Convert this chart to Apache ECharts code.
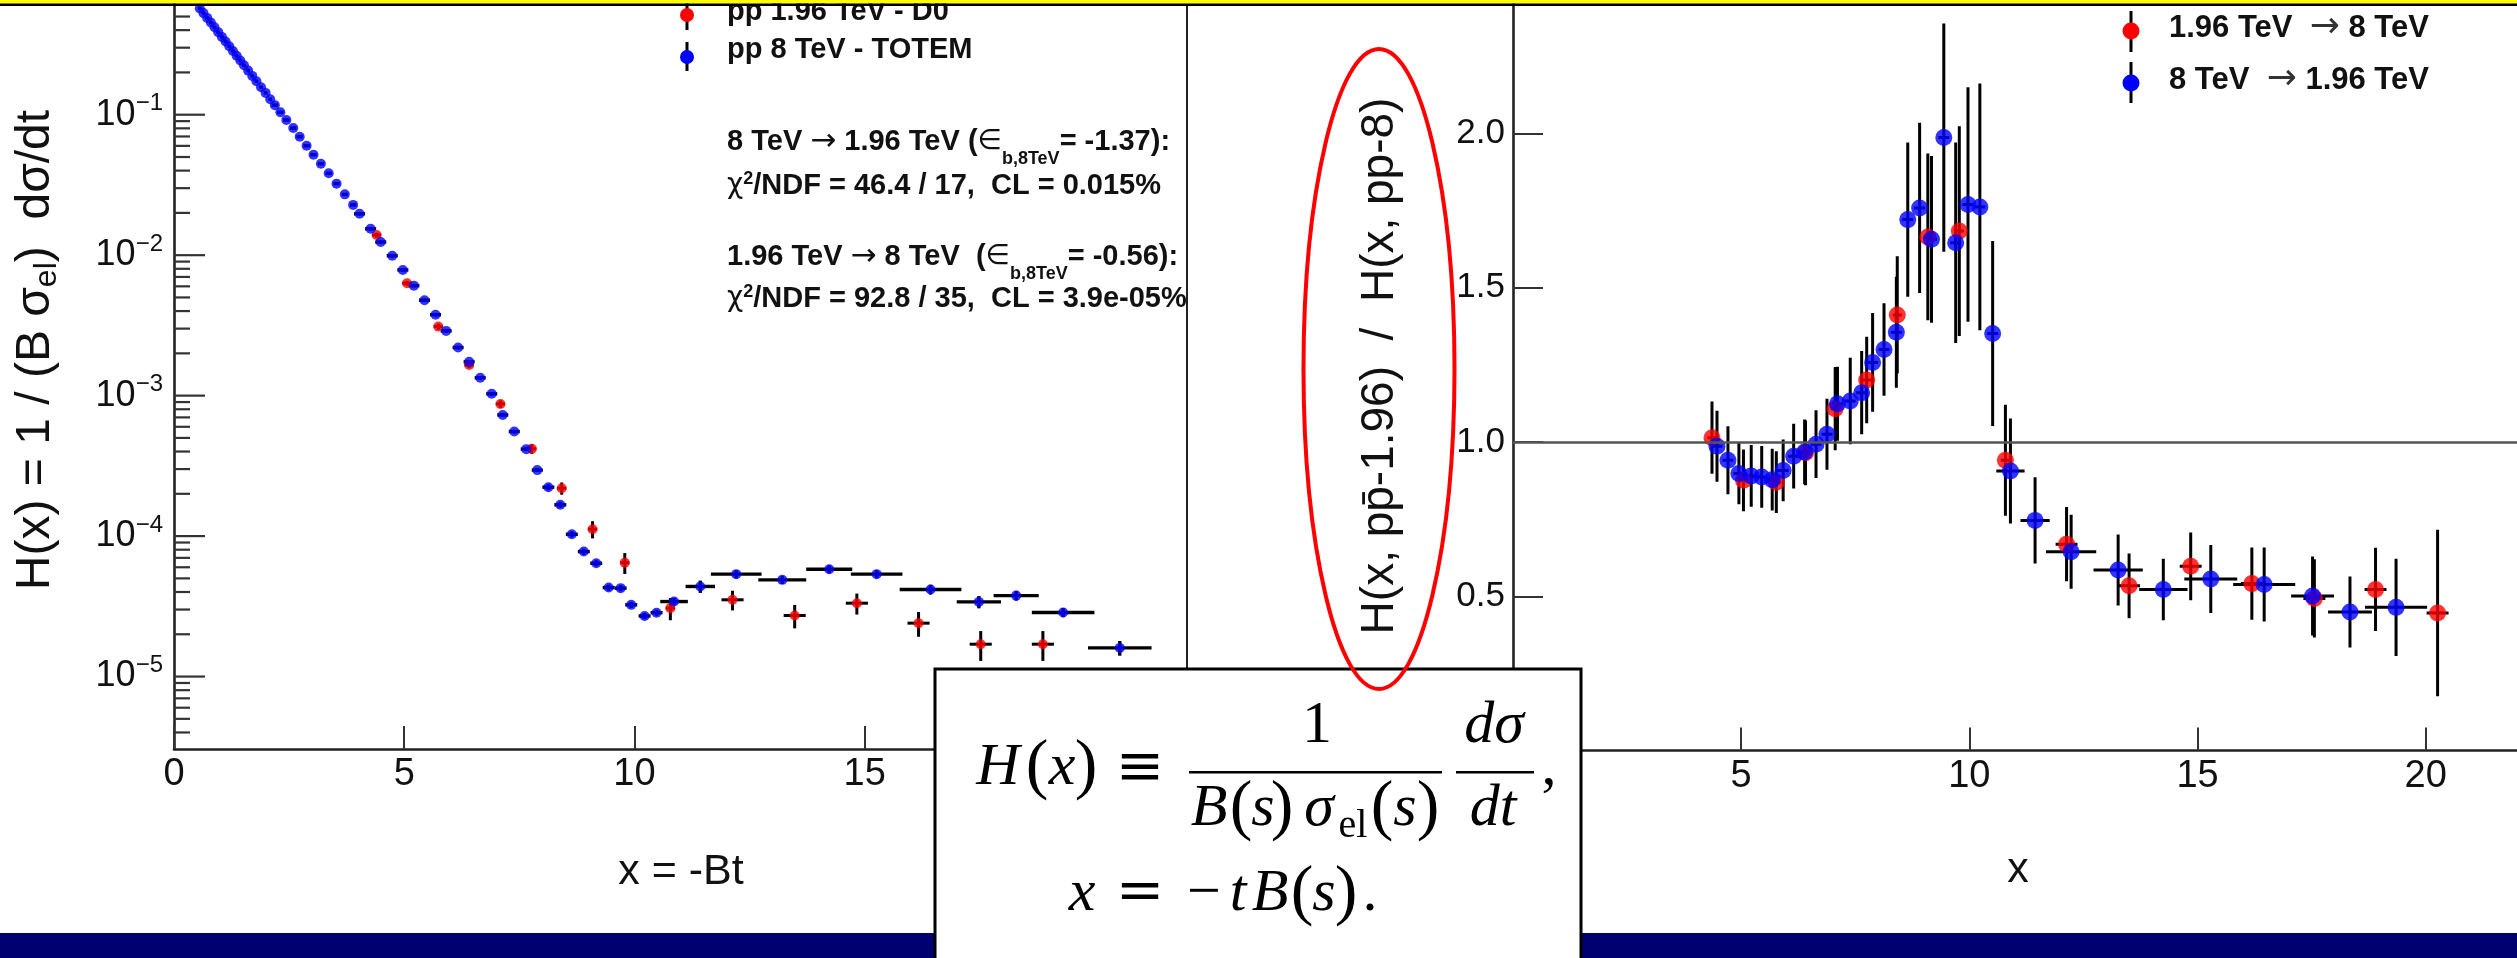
<!DOCTYPE html>
<html>
<head>
<meta charset="utf-8">
<title>H(x) scaling: D0 1.96 TeV vs TOTEM 8 TeV</title>
<script src="https://cdn.jsdelivr.net/npm/echarts@6/dist/echarts.min.js"></script>
<style>
  html, body { margin: 0; padding: 0; background: #ffffff; }
  #chart { width: 2517px; height: 958px; }
</style>
</head>
<body>
<div id="chart"></div>
<script>
// ---------------- Left panel: H(x) on a log scale ----------------
// pp̄ 1.96 TeV (D0)
const d0X      = [4.40, 5.06, 5.74, 6.41, 7.09, 7.77, 8.42, 9.09, 9.79, 10.78, 12.13, 13.48, 14.83, 16.17, 17.52, 18.87];
const d0H      = [0.0139, 0.00631, 0.00310, 0.00165, 0.000873, 0.000418, 2.19e-4, 1.12e-4, 6.47e-5, 3.07e-5,
                  3.52e-5, 2.72e-5, 3.33e-5, 2.40e-5, 1.70e-5, 1.70e-5];
const d0ErrX   = [0.10, 0.10, 0.10, 0.10, 0.10, 0.10, 0.10, 0.10, 0.10, 0.10, 0.24, 0.24, 0.24, 0.24, 0.24, 0.24];
const d0ErrRel = [0.04, 0.04, 0.05, 0.05, 0.06, 0.08, 0.10, 0.14, 0.17, 0.18, 0.16, 0.19, 0.17, 0.20, 0.24, 0.24];

// pp 8 TeV (TOTEM)
const totemX = [
  0.56, 0.64, 0.72, 0.80, 0.88, 0.96, 1.04, 1.12, 1.20, 1.28, 1.36, 1.44, 1.52, 1.61, 1.70, 1.79, 1.89, 1.99, 2.09,
  2.19, 2.31, 2.44, 2.59, 2.73, 2.88, 3.03, 3.19, 3.36, 3.53, 3.71, 3.89, 4.03, 4.27, 4.49, 4.74, 4.97, 5.21, 5.44, 5.68,
  5.91, 6.17, 6.41, 6.65, 6.90, 7.14, 7.39, 7.65, 7.89,
  8.13, 8.39, 8.64, 8.90, 9.17, 9.44, 9.70, 9.93, 10.22, 10.48, 10.86, 11.43, 12.21, 13.21, 14.23, 15.26, 16.43,
  17.48, 18.29, 19.31, 20.54
];
const totemH = [
  0.571, 0.529, 0.489, 0.453, 0.419, 0.387, 0.358, 0.332, 0.307, 0.284, 0.263, 0.243, 0.225, 0.206, 0.189, 0.173, 0.157, 0.143, 0.129,
  0.117, 0.104, 0.0917, 0.0804, 0.0696, 0.0601, 0.0519, 0.0448, 0.0383, 0.0323, 0.0271, 0.0228, 0.0197, 0.0154, 0.0124,
  0.00991, 0.00785, 0.00607, 0.00478, 0.00377,
  0.00289, 0.00220, 0.00174, 0.00134, 0.00103, 0.000729, 0.000555, 0.000416, 0.000295,
  2.23e-4, 1.67e-4, 1.03e-4, 7.76e-5, 6.41e-5, 4.30e-5, 4.26e-5, 3.24e-5, 2.70e-5, 2.85e-5, 3.42e-5, 4.38e-5, 5.36e-5,
  4.88e-5, 5.81e-5, 5.36e-5, 4.17e-5, 3.40e-5, 3.77e-5, 2.86e-5, 1.60e-5
];
const totemErrX = [
  0.04, 0.04, 0.04, 0.04, 0.04, 0.04, 0.04, 0.04, 0.04, 0.04, 0.04, 0.04, 0.04, 0.04, 0.04, 0.04, 0.04, 0.04, 0.04,
  0.07, 0.07, 0.07, 0.07, 0.07, 0.07, 0.07, 0.07, 0.07, 0.07, 0.07, 0.07, 0.12, 0.12, 0.12, 0.12, 0.12, 0.12, 0.12, 0.12,
  0.12, 0.12, 0.12, 0.12, 0.12, 0.12, 0.12, 0.12, 0.12,
  0.13, 0.13, 0.13, 0.13, 0.13, 0.13, 0.13, 0.13, 0.13, 0.13, 0.30, 0.32, 0.55, 0.52, 0.50, 0.56, 0.67,
  0.48, 0.49, 0.68, 0.69
];
const totemErrRel = [
  0.01, 0.01, 0.01, 0.01, 0.01, 0.01, 0.01, 0.01, 0.01, 0.01, 0.01, 0.01, 0.01, 0.01, 0.01, 0.01, 0.01, 0.01, 0.01,
  0.02, 0.02, 0.02, 0.02, 0.02, 0.02, 0.02, 0.02, 0.02, 0.02, 0.02, 0.02, 0.03, 0.03, 0.03, 0.03, 0.03, 0.03, 0.03, 0.03,
  0.03, 0.03, 0.03, 0.03, 0.03, 0.03, 0.03, 0.03, 0.03,
  0.05, 0.05, 0.05, 0.05, 0.05, 0.05, 0.05, 0.05, 0.05, 0.05, 0.06, 0.10, 0.065, 0.065, 0.065, 0.065, 0.08,
  0.10, 0.08, 0.075, 0.12
];

// ---------------- Right panel: ratio H(x, pp̄-1.96) / H(x, pp-8) ----------------
// 1.96 TeV -> 8 TeV
const upX    = [4.36, 5.05, 5.77, 6.41, 7.06, 7.75, 8.42, 9.09, 9.78, 10.79, 12.13, 13.50, 14.85, 16.19, 17.56, 18.90, 20.26];
const upR    = [1.014, 0.876, 0.870, 0.965, 1.108, 1.201, 1.412, 1.665, 1.684, 0.941, 0.669, 0.534, 0.597, 0.541, 0.493, 0.522, 0.446];
const upErrX = [0.10, 0.10, 0.10, 0.10, 0.10, 0.10, 0.10, 0.10, 0.10, 0.10, 0.24, 0.24, 0.24, 0.24, 0.24, 0.24, 0.24];
const upErrY = [0.117, 0.10, 0.10, 0.105, 0.135, 0.14, 0.19, 0.27, 0.34, 0.18, 0.12, 0.105, 0.11, 0.117, 0.127, 0.135, 0.27];

// 8 TeV -> 1.96 TeV
const downX = [4.47, 4.71, 4.95, 5.22, 5.45, 5.68, 5.92, 6.15, 6.39, 6.64,
               6.88, 7.11, 7.39, 7.64, 7.88, 8.13, 8.40, 8.65, 8.91, 9.17,
               9.44, 9.70, 9.97, 10.23, 10.51, 10.90, 11.44, 12.23, 13.26, 14.25,
               15.29, 16.46, 17.52, 18.34, 19.35];
const downR = [0.986, 0.941, 0.898, 0.890, 0.887, 0.878, 0.908, 0.954, 0.968, 0.993,
               1.025, 1.124, 1.133, 1.160, 1.258, 1.300, 1.356, 1.721, 1.759, 1.657,
               1.987, 1.646, 1.770, 1.762, 1.352, 0.906, 0.746, 0.644, 0.585, 0.522,
               0.556, 0.538, 0.501, 0.449, 0.464];
const downErrX = [0.12, 0.12, 0.12, 0.12, 0.12, 0.12, 0.12, 0.12, 0.12, 0.12,
                  0.12, 0.12, 0.12, 0.12, 0.12, 0.12, 0.12, 0.12, 0.12, 0.12,
                  0.12, 0.12, 0.12, 0.12, 0.12, 0.31, 0.32, 0.55, 0.54, 0.53,
                  0.58, 0.68, 0.47, 0.48, 0.68];
const downErrY = [0.115, 0.11, 0.10, 0.10, 0.10, 0.10, 0.10, 0.105, 0.105, 0.11,
                  0.115, 0.12, 0.14, 0.135, 0.16, 0.15, 0.18, 0.25, 0.276, 0.27,
                  0.37, 0.325, 0.38, 0.40, 0.30, 0.17, 0.14, 0.12, 0.115, 0.10,
                  0.11, 0.12, 0.128, 0.115, 0.158];

// Axis tick values
const xTickStep = 5;
const ratioTickStep = 0.5;
const ratioReference = 1.0;
const logMinorMultipliers = [2, 3, 4, 5, 6, 7, 8, 9];
const logDecades = [-6, -5, -4, -3, -2, -1];

// ---------------- helpers ----------------
const SANS = '"Liberation Sans", Arial, Helvetica, sans-serif';
const SERIF = '"Liberation Serif", "Times New Roman", serif';
const SYM = '"DejaVu Sans", sans-serif';
const INK = '#111111';

function rows4(xs, ys, exs, eys) {
  return xs.map((x, i) => [x, ys[i], exs[i], eys[i]]);
}

// error bars: horizontal half-width in x units, vertical either relative (log panel) or absolute
function errorBarRenderer(relative, width) {
  return function (params, api) {
    const x = api.value(0), y = api.value(1), ex = api.value(2), ey = api.value(3);
    const lo = relative ? y * (1 - ey) : y - ey;
    const hi = relative ? y * (1 + ey) : y + ey;
    const a = api.coord([x - ex, y]), b = api.coord([x + ex, y]);
    const c = api.coord([x, hi]), d = api.coord([x, lo]);
    const st = { stroke: '#000', lineWidth: width };
    return {
      type: 'group',
      children: [
        { type: 'line', shape: { x1: a[0], y1: a[1], x2: b[0], y2: b[1] }, style: st },
        { type: 'line', shape: { x1: c[0], y1: c[1], x2: d[0], y2: d[1] }, style: st }
      ]
    };
  };
}

// log-axis tick marks (major at decades, minor at 2..9), drawn inside the frame
const logTickRows = [];
logDecades.forEach(e => {
  const base = Math.pow(10, e);
  if (base >= 3.1e-6 && base <= 0.6) logTickRows.push([0, base, 31]);
  logMinorMultipliers.forEach(m => {
    const v = m * base;
    if (v >= 3.1e-6 && v <= 0.6) logTickRows.push([0, v, 16]);
  });
});

function logTickRenderer(params, api) {
  const p = api.coord([api.value(0), api.value(1)]);
  return {
    type: 'line',
    shape: { x1: p[0], y1: p[1], x2: p[0] + api.value(2), y2: p[1] },
    style: { stroke: '#333', lineWidth: 2.2 }
  };
}

const xAxisCommon = {
  type: 'value', min: 0, max: 22, interval: xTickStep,
  axisLine: { onZero: false, lineStyle: { color: '#222', width: 2.6 } },
  axisTick: { inside: true, length: 23, lineStyle: { color: '#333', width: 2 } },
  axisLabel: { margin: 7, fontSize: 38, color: INK, fontFamily: SANS, showMaxLabel: false },
  splitLine: { show: false }
};

const option = {
  animation: false,
  backgroundColor: '#ffffff',
  grid: [
    { left: 174, top: 4, width: 1013, height: 745 },
    { left: 1513, top: 4, width: 1011, height: 746.5 }
  ],
  xAxis: [
    Object.assign({ gridIndex: 0 }, xAxisCommon),
    Object.assign({ gridIndex: 1 }, xAxisCommon)
  ],
  yAxis: [
    {
      gridIndex: 0, type: 'log', logBase: 10, min: 3.05e-6, max: 0.614,
      axisLine: { onZero: false, lineStyle: { color: '#222', width: 2.6 } },
      axisTick: { show: false },
      splitLine: { show: false },
      axisLabel: {
        margin: 11, color: INK,
        formatter: function (v) {
          const l = Math.log10(v), e = Math.round(l);
          if (Math.abs(l - e) > 1e-6) return '';
          return '{b|10}{s|' + (e < 0 ? '\u2212' : '') + Math.abs(e) + '}';
        },
        rich: {
          b: { fontSize: 36, fontFamily: SANS, color: INK },
          s: { fontSize: 24, fontFamily: SANS, color: INK, padding: [0, 0, 22, 0] }
        }
      }
    },
    {
      gridIndex: 1, type: 'value', min: 0, max: 2.42, interval: ratioTickStep,
      axisLine: { onZero: false, lineStyle: { color: '#222', width: 2.6 } },
      axisTick: { inside: true, length: 30, lineStyle: { color: '#333', width: 2 } },
      splitLine: { show: false },
      axisLabel: {
        margin: 8, fontSize: 35, color: INK, fontFamily: SANS, showMaxLabel: false,
        formatter: v => v.toFixed(1)
      }
    }
  ],
  series: [
    // left panel
    {
      name: 'log ticks', type: 'custom', xAxisIndex: 0, yAxisIndex: 0,
      data: logTickRows, encode: { x: 0, y: 1 }, renderItem: logTickRenderer, silent: true, clip: false, z: 3
    },
    {
      name: 'D0 errors', type: 'custom', xAxisIndex: 0, yAxisIndex: 0,
      data: rows4(d0X, d0H, d0ErrX, d0ErrRel), encode: { x: 0, y: 1 },
      renderItem: errorBarRenderer(true, 3), silent: true, clip: true
    },
    {
      name: 'pp\u0304 1.96 TeV - D0', type: 'scatter', xAxisIndex: 0, yAxisIndex: 0,
      data: d0X.map((x, i) => [x, d0H[i]]), symbol: 'circle', symbolSize: 10,
      itemStyle: { color: '#ff0000' }
    },
    {
      name: 'TOTEM errors', type: 'custom', xAxisIndex: 0, yAxisIndex: 0,
      data: rows4(totemX, totemH, totemErrX, totemErrRel), encode: { x: 0, y: 1 },
      renderItem: errorBarRenderer(true, 3.4), silent: true, clip: true
    },
    {
      name: 'pp 8 TeV - TOTEM', type: 'scatter', xAxisIndex: 0, yAxisIndex: 0,
      data: totemX.map((x, i) => [x, totemH[i]]), symbol: 'circle', symbolSize: 10,
      itemStyle: { color: '#0000ff' }
    },
    // right panel
    {
      name: '1.96 TeV \u2192 8 TeV errors', type: 'custom', xAxisIndex: 1, yAxisIndex: 1,
      data: rows4(upX, upR, upErrX, upErrY), encode: { x: 0, y: 1 },
      renderItem: errorBarRenderer(false, 3), silent: true, clip: true,
      markLine: {
        silent: true, symbol: ['none', 'none'], label: { show: false },
        lineStyle: { color: '#555', width: 2.6, type: 'solid' },
        data: [{ yAxis: ratioReference }]
      }
    },
    {
      name: '1.96 TeV \u2192 8 TeV', type: 'scatter', xAxisIndex: 1, yAxisIndex: 1,
      data: upX.map((x, i) => [x, upR[i]]), symbol: 'circle', symbolSize: 17,
      itemStyle: { color: '#ff0000' }
    },
    {
      name: '8 TeV \u2192 1.96 TeV errors', type: 'custom', xAxisIndex: 1, yAxisIndex: 1,
      data: rows4(downX, downR, downErrX, downErrY), encode: { x: 0, y: 1 },
      renderItem: errorBarRenderer(false, 3), silent: true, clip: true
    },
    {
      name: '8 TeV \u2192 1.96 TeV', type: 'scatter', xAxisIndex: 1, yAxisIndex: 1,
      data: downX.map((x, i) => [x, downR[i]]), symbol: 'circle', symbolSize: 17,
      itemStyle: { color: '#0000ff' }
    }
  ],
  graphic: { elements: [] }
};

// ---------------- page furniture, titles, legends, formula ----------------
const G = option.graphic.elements;

// bottom navy band
G.push({ type: 'rect', z: 100, shape: { x: 0, y: 933, width: 2517, height: 25 }, style: { fill: '#000070' } });
// divider between the two pads
G.push({ type: 'line', z: 100, shape: { x1: 1187, y1: 5, x2: 1187, y2: 958 }, style: { stroke: '#222', lineWidth: 2 } });

// axis titles
G.push({ type: 'text', z: 100, x: 681, y: 872, style: { text: 'x = -Bt', fontFamily: SANS, fontSize: 43, fill: INK, align: 'center', verticalAlign: 'middle' } });
G.push({ type: 'text', z: 100, x: 2018, y: 870, style: { text: 'x', fontFamily: SANS, fontSize: 43, fill: INK, align: 'center', verticalAlign: 'middle' } });
G.push({
  type: 'text', z: 100, x: 36, y: 350, rotation: Math.PI / 2,
  style: {
    text: '{m|H(x) = 1 / (B \u03c3}{u|el}{m|)  d\u03c3/dt}', align: 'center', verticalAlign: 'middle',
    rich: {
      m: { fontFamily: SANS, fontSize: 48, fill: INK },
      u: { fontFamily: SANS, fontSize: 32, fill: INK, padding: [22, 0, 0, 0] }
    }
  }
});
G.push({
  type: 'text', z: 100, x: 1380, y: 366, rotation: Math.PI / 2,
  style: { text: 'H(x, pp\u0304-1.96)  /  H(x, pp-8)', fontFamily: SANS, fontSize: 46, fill: INK, align: 'center', verticalAlign: 'middle' }
});

// legends
const legendRich = (size) => ({
  n: { fontFamily: SANS, fontSize: size, fontWeight: 'bold', fill: INK },
  t: { fontFamily: SYM, fontSize: size + 5, fontWeight: 'normal', fill: '#333' }
});
G.push({ type: 'line', z: 100, shape: { x1: 687, y1: 0, x2: 687, y2: 30 }, style: { stroke: '#000', lineWidth: 3 } });
G.push({ type: 'circle', z: 100, shape: { cx: 687, cy: 15, r: 7 }, style: { fill: '#ff0000' } });
G.push({ type: 'line', z: 100, shape: { x1: 687, y1: 42, x2: 687, y2: 71 }, style: { stroke: '#000', lineWidth: 3 } });
G.push({ type: 'circle', z: 100, shape: { cx: 687, cy: 57, r: 7 }, style: { fill: '#0000ff' } });
G.push({ type: 'text', z: 100, x: 727, y: 12, style: { text: '{n|pp\u0304 1.96 TeV - D0}', rich: legendRich(29), align: 'left', verticalAlign: 'middle' } });
G.push({ type: 'text', z: 100, x: 727, y: 50, style: { text: '{n|pp 8 TeV - TOTEM}', rich: legendRich(29), align: 'left', verticalAlign: 'middle' } });

G.push({ type: 'line', z: 100, shape: { x1: 2131, y1: 11, x2: 2131, y2: 52 }, style: { stroke: '#000', lineWidth: 3 } });
G.push({ type: 'circle', z: 100, shape: { cx: 2131, cy: 31, r: 8.5 }, style: { fill: '#ff0000' } });
G.push({ type: 'line', z: 100, shape: { x1: 2131, y1: 62, x2: 2131, y2: 103 }, style: { stroke: '#000', lineWidth: 3 } });
G.push({ type: 'circle', z: 100, shape: { cx: 2131, cy: 83, r: 8.5 }, style: { fill: '#0000ff' } });
G.push({ type: 'text', z: 100, x: 2169, y: 28, style: { text: '{n|1.96 TeV  }{t|\u2192}{n| 8 TeV}', rich: legendRich(31), align: 'left', verticalAlign: 'middle' } });
G.push({ type: 'text', z: 100, x: 2169, y: 80, style: { text: '{n|8 TeV  }{t|\u2192}{n| 1.96 TeV}', rich: legendRich(31), align: 'left', verticalAlign: 'middle' } });

// fit annotations
const noteRich = {
  n: { fontFamily: SANS, fontSize: 29, fontWeight: 'bold', fill: INK },
  t: { fontFamily: SYM, fontSize: 31, fontWeight: 'normal', fill: INK },
  c: { fontFamily: SYM, fontSize: 28, fontWeight: 'normal', fill: INK },
  s: { fontFamily: SANS, fontSize: 18, fontWeight: 'bold', fill: INK, padding: [34, 0, 0, 0] },
  p: { fontFamily: SANS, fontSize: 18, fontWeight: 'bold', fill: INK, padding: [0, 0, 14, 0] }
};
const notes = [
  { y: 142, text: '{n|8 TeV }{t|\u2192}{n| 1.96 TeV (}{c|\u2208}{s|b,8TeV}{n|= -1.37):}' },
  { y: 186, text: '{c|\u03c7}{p|2}{n|/NDF = 46.4 / 17,  CL = 0.015%}' },
  { y: 257, text: '{n|1.96 TeV }{t|\u2192}{n| 8 TeV  (}{c|\u2208}{s|b,8TeV}{n|= -0.56):}' },
  { y: 299, text: '{c|\u03c7}{p|2}{n|/NDF = 92.8 / 35,  CL = 3.9e-05%}' }
];
notes.forEach(n => G.push({ type: 'text', z: 100, x: 727, y: n.y, style: { text: n.text, rich: noteRich, align: 'left', verticalAlign: 'middle' } }));

// top yellow band with dark rule
G.push({ type: 'rect', z: 110, shape: { x: 0, y: 0, width: 2517, height: 3.5 }, style: { fill: '#ffff00' } });
G.push({ type: 'rect', z: 110, shape: { x: 0, y: 3.5, width: 2517, height: 2.5 }, style: { fill: '#000000' } });

// definition box: H(x) = 1/(B(s) sigma_el(s)) dsigma/dt ,  x = -t B(s).
const glyphStyles = {
  i: { fontFamily: SERIF, fontSize: 60, fontStyle: 'italic' },
  r: { fontFamily: SERIF, fontSize: 60, fontStyle: 'normal' },
  p: { fontFamily: SERIF, fontSize: 68, fontStyle: 'normal' },
  e: { fontFamily: '"DejaVu Serif", serif', fontSize: 58, fontStyle: 'normal' },
  u: { fontFamily: SERIF, fontSize: 40, fontStyle: 'normal' }
};
const formulaGlyphs = [
  ['H', 998, 768, 'i'], ['(', 1037, 768, 'p'], ['x', 1062, 768, 'i'], [')', 1086, 768, 'p'],
  ['\u2261', 1140, 770, 'e'],
  ['1', 1317, 726, 'r'],
  ['B', 1209, 809, 'i'], ['(', 1241, 809, 'p'], ['s', 1263, 809, 'i'], [')', 1282, 809, 'p'],
  ['\u03c3', 1319, 809, 'i'], ['el', 1353, 826, 'u'],
  ['(', 1382, 809, 'p'], ['s', 1405, 809, 'i'], [')', 1428, 809, 'p'],
  ['d\u03c3', 1494, 726, 'i'], ['dt', 1493, 809, 'i'], [',', 1549, 768, 'r'],
  ['x', 1082, 894, 'i'], ['=', 1140, 894, 'e'], ['\u2212', 1204, 894, 'r'], ['t', 1238, 894, 'i'],
  ['B', 1270, 894, 'i'], ['(', 1302, 894, 'p'], ['s', 1324, 894, 'i'], [')', 1346, 894, 'p'], ['.', 1370, 894, 'r']
];
G.push({ type: 'rect', z: 120, shape: { x: 935, y: 669, width: 646, height: 300 }, style: { fill: '#ffffff', stroke: '#000', lineWidth: 3 } });
G.push({ type: 'rect', z: 121, shape: { x: 1189, y: 771, width: 253, height: 2.6 }, style: { fill: '#000' } });
G.push({ type: 'rect', z: 121, shape: { x: 1456, y: 771, width: 78, height: 2.6 }, style: { fill: '#000' } });
formulaGlyphs.forEach(([txt, cx, cy, s]) => {
  G.push({
    type: 'text', z: 121, x: cx, y: cy,
    style: Object.assign({ text: txt, fill: '#000', align: 'center', verticalAlign: 'middle' }, glyphStyles[s])
  });
});

// highlight around the ratio title
G.push({ type: 'ellipse', z: 130, shape: { cx: 1379, cy: 369, rx: 75.5, ry: 320 }, style: { fill: 'none', stroke: '#ff0000', lineWidth: 4 } });

const chart = echarts.init(document.getElementById('chart'), null, { renderer: 'canvas' });
chart.setOption(option);
</script>
</body>
</html>
